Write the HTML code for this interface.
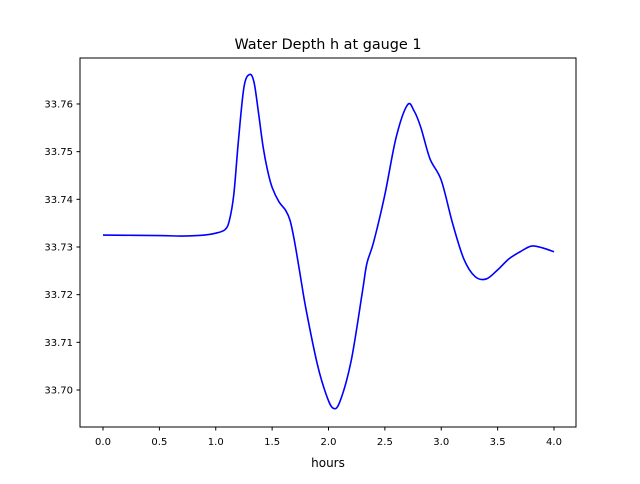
<!DOCTYPE html>
<html><head><meta charset="utf-8"><style>
body{margin:0;background:#fff;font-family:"DejaVu Sans","Liberation Sans",sans-serif;}
svg text{font-family:"DejaVu Sans","Liberation Sans",sans-serif;}
</style></head><body>
<svg id="chart" width="640" height="480" xmlns="http://www.w3.org/2000/svg">
<rect width="640" height="480" fill="#fff"/>
<text x="328" y="49" text-anchor="middle" font-size="14.4">Water Depth h at gauge 1</text>
<g id="plot"></g>
<rect x="80" y="58" width="496" height="369" fill="none" stroke="#000" stroke-width="1"/>
<text x="328" y="467" text-anchor="middle" font-size="12">hours</text>
</svg>
<script>
const hours=[0,0.5,0.7,0.9,1.0,1.08,1.12,1.16,1.2,1.25,1.3,1.34,1.38,1.42,1.46,1.5,1.56,1.62,1.66,1.7,1.75,1.8,1.9,1.98,2.04,2.1,2.2,2.3,2.34,2.4,2.5,2.6,2.7,2.76,2.82,2.9,3.0,3.1,3.2,3.3,3.4,3.5,3.6,3.7,3.8,3.9,4.0];
const depth=[33.7325,33.7324,33.7323,33.7325,33.7329,33.7336,33.7355,33.741,33.752,33.7635,33.7662,33.7645,33.758,33.751,33.746,33.7425,33.7395,33.7377,33.7355,33.731,33.724,33.717,33.7055,33.699,33.6962,33.6975,33.706,33.7205,33.7265,33.731,33.741,33.753,33.7598,33.7585,33.755,33.7485,33.744,33.735,33.7275,33.7238,33.7233,33.7252,33.7275,33.729,33.7302,33.7298,33.729];
const xTicks=[0,0.5,1,1.5,2,2.5,3,3.5,4];
const xTickLabels=["0.0","0.5","1.0","1.5","2.0","2.5","3.0","3.5","4.0"];
const yTicks=[33.70,33.71,33.72,33.73,33.74,33.75,33.76];
const yTickLabels=["33.70","33.71","33.72","33.73","33.74","33.75","33.76"];
const sx=v=>103+v*112.75;
const sy=v=>390-(v-33.70)*4767;
const g=document.getElementById('plot');
const NS='http://www.w3.org/2000/svg';
function mk(t,a){const e=document.createElementNS(NS,t);for(const k in a)e.setAttribute(k,a[k]);return e;}
xTicks.forEach((t,i)=>{const x=sx(t);
 const l=mk('line',{x1:x,x2:x,y1:427,y2:430.5,stroke:'#000'});
 
 g.appendChild(l);
 const tx=mk('text',{x:x,y:445,'text-anchor':'middle','font-size':'10'});tx.textContent=xTickLabels[i];
 
 g.appendChild(tx);});
yTicks.forEach((t,i)=>{const y=sy(t);
 const l=mk('line',{x1:76.5,x2:80,y1:y,y2:y,stroke:'#000'});
 
 g.appendChild(l);
 const tx=mk('text',{x:73,y:y+3.5,'text-anchor':'end','font-size':'10'});tx.textContent=yTickLabels[i];
 
 g.appendChild(tx);});
const P=hours.map((h,i)=>[sx(h),sy(depth[i])]);
let d='M'+P[0][0]+','+P[0][1];
for(let i=0;i<P.length-1;i++){const p0=P[Math.max(0,i-1)],p1=P[i],p2=P[i+1],p3=P[Math.min(P.length-1,i+2)];
 d+=' C'+(p1[0]+(p2[0]-p0[0])/6)+','+(p1[1]+(p2[1]-p0[1])/6)+' '+(p2[0]-(p3[0]-p1[0])/6)+','+(p2[1]-(p3[1]-p1[1])/6)+' '+p2[0]+','+p2[1];}
const path=mk('path',{d:d,fill:'none',stroke:'#0000ff','stroke-width':'1.6'});


g.appendChild(path);
</script>
</body></html>
